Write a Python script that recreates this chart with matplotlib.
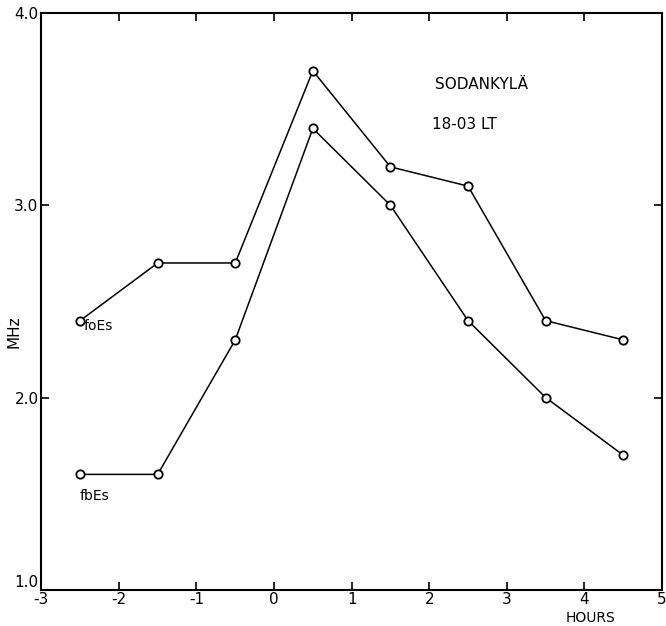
import matplotlib
matplotlib.use("Agg")
from matplotlib import pyplot as plt

hours = [-2.5, -1.5, -0.5, 0.5, 1.5, 2.5, 3.5, 4.5]
foEs = [2.4, 2.7, 2.7, 3.7, 3.2, 3.1, 2.4, 2.3]
fbEs = [1.6, 1.6, 2.3, 3.4, 3.0, 2.4, 2.0, 1.7]

xticks = [-3, -2, -1, 0, 1, 2, 3, 4, 5]
yticks = [1.0, 2.0, 3.0, 4.0]

plt.rcParams['font.family'] = ['DejaVu Sans']

fig = plt.figure(figsize=(6.66, 6.26), dpi=100)
ax = fig.add_axes([0.062, 0.058, 0.932, 0.921])

for ys in (foEs, fbEs):
    ax.plot(hours, ys, color='black', lw=1.1, marker='o', ms=6,
            mfc='white', mec='black', mew=1.3)

ax.set_xlim(-3, 5)
ax.set_ylim(1.0, 4.0)
ax.set_xticks(xticks)
ax.set_xticklabels([str(v) for v in xticks])
ax.set_yticks(yticks)
ax.set_yticklabels(['%.1f' % v for v in yticks])
ax.tick_params(direction='in', length=6, width=1.2, labelsize=11,
               top=True, right=True, pad=2)
# the 1.0 label sits a little above the corner, clear of "-3"
ax.get_yticklabels()[0].set_va('bottom')

for s in ax.spines.values():
    s.set_linewidth(1.5)

ax.text(-2.45, 2.37, 'foEs', fontsize=10, va='center')
ax.text(-2.5, 1.49, 'fbEs', fontsize=10, va='center')
ax.text(2.07, 3.63, 'SODANKYLÄ', fontsize=11, va='center')
ax.text(2.04, 3.42, '18-03 LT', fontsize=11, va='center')

fig.text(0.021, 0.47, 'MHz', rotation=90, fontsize=11, ha='center', va='center')
fig.text(0.887, 0.002, 'HOURS', fontsize=10, ha='center', va='bottom')

fig.savefig('out.png', dpi=100)
